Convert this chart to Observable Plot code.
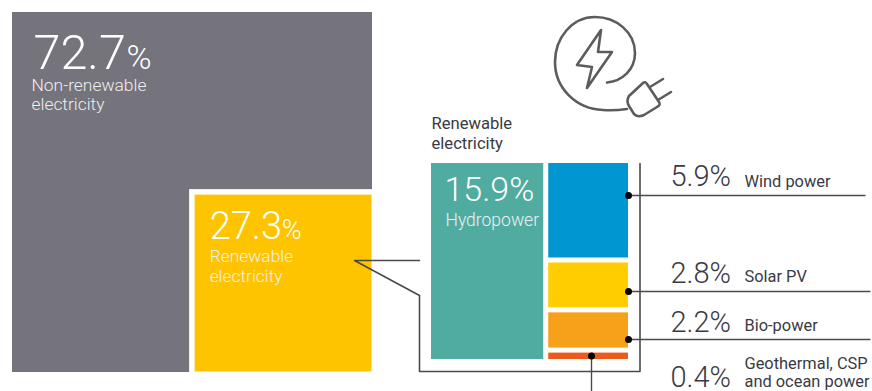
<!DOCTYPE html>
<html>
<head>
<meta charset="utf-8">
<script src="https://cdn.jsdelivr.net/npm/d3@7"></script>
<script src="https://cdn.jsdelivr.net/npm/@observablehq/plot@0.6"></script>
<style>
  html, body { margin: 0; padding: 0; background: #fff; }
  svg { display: block; }
</style>
</head>
<body>
<div id="chart"></div>
<script>
// Share of global electricity production, percent.
const mixNames = ["Non-renewable\nelectricity", "Renewable\nelectricity"];
const mixShares = [72.7, 27.3];

// Breakdown of the renewable part, percent of all electricity.
const sourceNames = ["Hydropower", "Wind power", "Solar PV", "Bio-power", "Geothermal, CSP\nand ocean power"];
const sourceShares = [15.9, 5.9, 2.8, 2.2, 0.4];

// ---- Layout of the two treemaps, worked out from the shares ----
const fmt = d3.format(".1f");
const gap = 5;
const square = {x0: 12, y0: 12, x1: 372, y1: 372};
const rootScale = 35;  // side of the corner tile per square root of a percent
const panel = {x0: 431, y0: 163, x1: 628, y1: 359};

const cornerSide = Math.sqrt(mixShares[1]) * rootScale;
const corner = {x0: square.x1 - cornerSide, y0: square.y1 - cornerSide, x1: square.x1, y1: square.y1};

// Hydropower fills a column on the left, the other sources stack on the right.
const renewableTotal = d3.sum(sourceShares);
const hydroWidth = (panel.x1 - panel.x0 - gap) * sourceShares[0] / renewableTotal;
const stackX0 = panel.x0 + hydroWidth + gap;
const stackHeight = panel.y1 - panel.y0 - gap * (sourceShares.length - 2);
const stackTotal = d3.sum(sourceShares.slice(1));

const sourceFill = ["#50aca0", "#0096d2", "#ffcd00", "#f7a11a", "#ea5b1c"];
let cursor = panel.y0;
const sourceTiles = sourceNames.map((name, i) => {
  if (i === 0) return {name, share: sourceShares[0], x0: panel.x0, x1: panel.x0 + hydroWidth, y0: panel.y0, y1: panel.y1, fill: sourceFill[0]};
  const h = stackHeight * sourceShares[i] / stackTotal;
  const tile = {name, share: sourceShares[i], x0: stackX0, x1: panel.x1, y0: cursor, y1: cursor + h, fill: sourceFill[i]};
  cursor += h + gap;
  return tile;
});

const mixTiles = [
  {...square, fill: "#75737c"},
  {x0: corner.x0, y0: corner.y0, x1: corner.x1, y1: corner.y1, fill: "#ffffff"},
  {x0: corner.x0 + gap + 0.5, y0: corner.y0 + gap + 0.5, x1: corner.x1 - 0.5, y1: corner.y1 - 0.5, fill: "#ffc400"}
];

// Rows of the right-hand key: leader height and text baselines.
const keyLeft = 670, keyTextLeft = 744;
const keyRows = [
  {tile: sourceTiles[1], leader: 195, end: 865, big: 185, small: 186},
  {tile: sourceTiles[2], leader: 291, end: 870, big: 282, small: 281},
  {tile: sourceTiles[3], leader: 339, end: 870, big: 331.5, small: 330},
  {tile: sourceTiles[4], leader: null, end: null, big: 386, small: 386}
];
const geoTile = sourceTiles[4];
const geoStemX = 591;

// Callout joining the renewable tile to the breakdown panel.
const calloutTip = {x: 354, y: 260};
const frameX0 = 419, frameX1 = 639.5, frameY0 = 163, frameY1 = 371;
const calloutPath = [
  {x: frameX0, y: calloutTip.y},
  calloutTip,
  {x: frameX0, y: 295},
  {x: frameX0, y: frameY1},
  {x: frameX1, y: frameY1},
  {x: frameX1, y: frameY0}
];

const leaders = [
  ...keyRows.filter(r => r.leader).map(r => ({x1: panel.x1, x2: r.end, y1: r.leader, y2: r.leader})),
  {x1: geoStemX, x2: geoStemX, y1: geoTile.y0 + 3, y2: 391}
];
const leaderDots = [
  ...keyRows.filter(r => r.leader).map(r => ({x: panel.x1, y: r.leader})),
  {x: geoStemX, y: geoTile.y0 + 3}
];

const inkDark = "#3a3a44", inkLine = "#4a4a4a", soft = "#eef0f0";
const base = {fontFamily: "Roboto", textAnchor: "start", lineAnchor: "bottom"};

// Electricity-and-plug pictogram, drawn as a single stroked glyph.
function plugIcon() {
  const g = d3.create("svg:g")
    .attr("fill", "none").attr("stroke", "#5c5c5c").attr("stroke-width", 2.6)
    .attr("stroke-linecap", "round").attr("stroke-linejoin", "round");
  g.append("path").attr("d", "M607 82.5 C622 81 635 70 635 53 C635 32 616 17 595 17 C572 17 555 38 555 62 C555 88 576 109 603 110 C611 110.5 620 110 627 109");
  g.append("path").attr("d", "M601 30 L577 65 L592 67 L587 88 L612 52 L598 52 Z");
  g.append("path").attr("d", "M643 83 Q645 81 647 84 L659 102 Q661 105 657 107 L644 115 Q638 118 634 114 L629 106 Q626 101 629 96 Z");
  g.append("path").attr("d", "M650 87 L663 79 M658 100 L671 92");
  return g.node();
}

const chart = Plot.plot({
  width: 872,
  height: 391,
  margin: 0,
  style: {background: "#fff"},
  x: {domain: [0, 872], range: [0, 872], axis: null},
  y: {domain: [0, 391], range: [0, 391], axis: null},
  marks: [
    // Overall split
    Plot.rect(mixTiles, {x1: "x0", x2: "x1", y1: "y0", y2: "y1", fill: d => d.fill}),
    Plot.text([mixShares[0]], {...base, x: square.x0, y: square.y0, dx: 21, dy: 56, text: d => fmt(d), fontSize: 48.5, fontWeight: 300, fill: "#fff"}),
    Plot.text(["%"], {...base, x: square.x0, y: square.y0, dx: 114, dy: 56, text: d => d, fontSize: 34, fontWeight: 300, fill: "#fff"}),
    Plot.text([mixNames[0]], {...base, x: square.x0, y: square.y0, dx: 19, dy: 97.5, text: d => d, fontSize: 17.4, lineHeight: 1.12, fontWeight: 300, fill: soft}),
    Plot.text([mixShares[1]], {...base, x: corner.x0 + gap, y: corner.y0 + gap, dx: 15, dy: 44, text: d => fmt(d), fontSize: 38, fontWeight: 300, fill: "#fff"}),
    Plot.text(["%"], {...base, x: corner.x0 + gap, y: corner.y0 + gap, dx: 87, dy: 44, text: d => d, fontSize: 27, fontWeight: 300, fill: "#fff"}),
    Plot.text([mixNames[1]], {...base, x: corner.x0 + gap, y: corner.y0 + gap, dx: 15, dy: 87, text: d => d, fontSize: 17.4, lineHeight: 1.12, fontWeight: 300, fill: soft}),

    // Callout frame around the breakdown
    Plot.line(calloutPath, {x: "x", y: "y", stroke: inkLine, strokeWidth: 1.6, curve: "linear"}),

    // Renewable breakdown
    Plot.text([mixNames[1]], {...base, x: panel.x0, y: panel.y0, dy: -15, text: d => d, fontSize: 16.6, lineHeight: 1.15, fill: inkDark}),
    Plot.rect(sourceTiles, {x1: "x0", x2: "x1", y1: "y0", y2: "y1", fill: d => d.fill}),
    Plot.text([sourceTiles[0]], {...base, x: "x0", y: "y0", dx: 13, dy: 37, text: d => fmt(d.share) + "%", fontSize: 34, fontWeight: 300, fill: "#fff"}),
    Plot.text([sourceTiles[0]], {...base, x: "x0", y: "y0", dx: 14, dy: 62, text: "name", fontSize: 17.5, fontWeight: 300, fill: soft}),

    // Leaders from each tile to its key row
    Plot.link(leaders, {x1: "x1", x2: "x2", y1: "y1", y2: "y2", stroke: inkLine, strokeWidth: 1.4}),
    Plot.dot(leaderDots, {x: "x", y: "y", r: 3.5, fill: "#000"}),

    // Key
    Plot.text(keyRows, {...base, x: keyLeft, y: "big", text: d => fmt(d.tile.share) + "%", fontSize: 29, fontWeight: 300, fill: inkDark}),
    Plot.text(keyRows, {...base, x: keyTextLeft, y: "small", text: d => d.tile.name, fontSize: 16.4, lineHeight: 1.04, fill: inkDark}),

    plugIcon
  ]
});
document.getElementById("chart").append(chart);
</script>
</body>
</html>
